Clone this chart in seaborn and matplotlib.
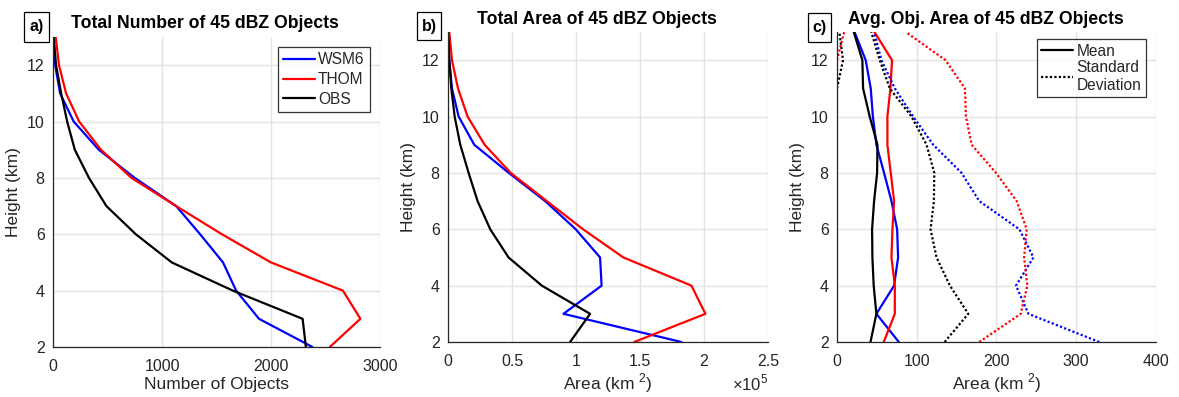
import numpy as np
import pandas as pd
import matplotlib
matplotlib.use("Agg")
import matplotlib.pyplot as plt
from matplotlib.lines import Line2D
from matplotlib.patches import Rectangle
import seaborn as sns

# Heights of the vertical levels (km)
heights = [2, 3, 4, 5, 6, 7, 8, 9, 10, 11, 12, 13]

# a) total number of 45 dBZ objects per level
count_wsm6 = [2380, 1890, 1680, 1560, 1350, 1130, 750, 420, 190, 65, 20, 3]
count_thom = [2540, 2820, 2660, 2000, 1550, 1130, 720, 440, 240, 120, 55, 25]
count_obs = [2320, 2290, 1650, 1090, 760, 490, 330, 200, 130, 75, 28, 6]

# b) total area of 45 dBZ objects (x 1e5 km^2)
area_wsm6 = [1.824, 0.902, 1.20, 1.188, 0.998, 0.759, 0.475, 0.205, 0.083, 0.031, 0.010, 0.0]
area_thom = [1.455, 2.011, 1.902, 1.370, 1.055, 0.772, 0.490, 0.286, 0.153, 0.078, 0.031, 0.010]
area_obs = [0.954, 1.110, 0.733, 0.473, 0.330, 0.231, 0.161, 0.096, 0.052, 0.026, 0.010, 0.0]

# c) average object area: mean and standard deviation (km^2)
mean_wsm6 = [77.5, 49.4, 71.6, 76.6, 75.4, 68.3, 59.0, 49.4, 45.0, 42.3, 36.0, 22.0]
mean_thom = [58.6, 72.5, 72.5, 68.3, 69.5, 71.6, 67.4, 63.2, 63.2, 67.0, 69.0, 47.0]
mean_obs = [42.0, 49.4, 46.0, 44.4, 44.0, 46.5, 50.3, 50.7, 41.0, 32.7, 31.8, 21.0]
std_wsm6 = [328.8, 240.0, 224.5, 246.3, 228.7, 178.4, 156.2, 120.6, 95.5, 72.5, 55.7, 46.5]
std_thom = [178.4, 230.4, 238.7, 234.6, 237.9, 225.3, 199.4, 168.8, 161.7, 160.4, 136.1, 86.3]
std_obs = [135.0, 164.6, 141.6, 124.8, 117.3, 121.5, 122.0, 112.3, 93.4, 66.2, 53.6, 43.0]
std_obs_upper = [np.nan] * 9 + [0.0, 7.5, 3.0]
std_thom_upper = [np.nan] * 10 + [0.0, 9.0]

model_names = ["WSM6", "THOM", "OBS"]
model_colors = {"WSM6": "#0000ff", "THOM": "#ff0000", "OBS": "#000000"}

panel_titles = ["Total Number of 45 dBZ Objects",
                "Total Area of 45 dBZ Objects",
                "Avg. Obj. Area of 45 dBZ Objects"]
panel_tags = ["a)", "b)", "c)"]

sns.set_theme(style="white")
plt.rcParams["font.family"] = ["Liberation Sans", "DejaVu Sans"]
plt.rcParams["mathtext.fontset"] = "custom"
plt.rcParams["mathtext.rm"] = "Liberation Sans"

text_gray = "#262626"
grid_gray = "#e3e3e3"
dot_style = (0, (1, 1))
lw = 1.6

W, H = 1179, 397
fig = plt.figure(figsize=(W / 100, H / 100), dpi=100)


def px_axes(left, top, right, bottom):
    return fig.add_axes([left / W, 1 - bottom / H, (right - left) / W, (bottom - top) / H])


def fig_xy(x, y):
    return x / W, 1 - y / H


ax_a = px_axes(53, 37, 380, 347)
ax_b = px_axes(448, 32, 768, 342)
ax_c = px_axes(837, 32, 1156, 342)


def draw(ax, values, name, style="-", label=None):
    df = pd.DataFrame({"x": values, "height": heights}).dropna()
    sns.lineplot(data=df, x="x", y="height", orient="y", sort=False, estimator=None,
                 color=model_colors[name], lw=lw, linestyle=style, label=label, ax=ax)


# Panel a
for name, vals in zip(model_names, [count_wsm6, count_thom, count_obs]):
    draw(ax_a, vals, name, label=name)
ax_a.set_xlim(0, 3000)
ax_a.set_xticks([0, 1000, 2000, 3000])
ax_a.set_xlabel("Number of Objects")

# Panel b
for name, vals in zip(model_names, [area_wsm6, area_thom, area_obs]):
    draw(ax_b, vals, name)
ax_b.set_xlim(0, 2.5)
ax_b.set_xticks([0, 0.5, 1, 1.5, 2, 2.5])
ax_b.set_xticklabels(["0", "0.5", "1", "1.5", "2", "2.5"])
ax_b.set_xlabel("Area (km $^{2}$)")
ax_b.text(1.0, -0.132, r"$\times$10$^{5}$", transform=ax_b.transAxes, ha="right",
          va="center", fontsize=12, color=text_gray)

# Panel c
for name, vals in zip(model_names, [mean_wsm6, mean_thom, mean_obs]):
    draw(ax_c, vals, name)
for name, vals in zip(model_names, [std_wsm6, std_thom, std_obs]):
    draw(ax_c, vals, name, style=dot_style)
draw(ax_c, std_obs_upper, "OBS", style=dot_style)
draw(ax_c, std_thom_upper, "THOM", style=dot_style)
ax_c.set_xlim(0, 400)
ax_c.set_xticks([0, 100, 200, 300, 400])
ax_c.set_xlabel("Area (km $^{2}$)")

title_centers = [(204.5, 23.5), (596.5, 19.5), (986, 19.5)]
tag_boxes = [(24, 12, 49, 42), (417, 12, 441, 40), (808, 13, 831, 42)]

for ax, title, tag, (tcx, tcy), (bx0, by0, bx1, by1) in zip(
        [ax_a, ax_b, ax_c], panel_titles, panel_tags, title_centers, tag_boxes):
    ax.set_ylim(2, 13)
    ax.set_yticks([2, 4, 6, 8, 10, 12])
    ax.set_ylabel("Height (km)", fontsize=12.5, color=text_gray, labelpad=4)
    ax.set_xlabel(ax.get_xlabel(), fontsize=12.5, color=text_gray, labelpad=2)
    ax.grid(True, color=grid_gray, lw=1.0)
    ax.tick_params(axis="both", direction="in", length=4, width=0.8, labelsize=11.5,
                   colors=text_gray)
    ax.tick_params(axis="x", pad=8.5)
    ax.tick_params(axis="y", pad=6)
    for side in ["top", "right"]:
        ax.spines[side].set_visible(False)
    for side in ["left", "bottom"]:
        ax.spines[side].set_color("#262626")
        ax.spines[side].set_linewidth(0.9)
    ax.set_axisbelow(True)
    fig.text(*fig_xy(tcx, tcy), title, ha="center", va="center",
             fontsize=12.7, fontweight="bold", color="black")
    x0, y0 = fig_xy(bx0, by1)
    fig.patches.append(Rectangle((x0, y0), (bx1 - bx0) / W, (by1 - by0) / H,
                                 transform=fig.transFigure, fill=True, fc="white",
                                 ec="black", lw=0.9, zorder=5))
    fig.text(*fig_xy((bx0 + bx1) / 2, (by0 + by1) / 2), tag, ha="center", va="center",
             fontsize=11.5, fontweight="bold", color="black", zorder=6)

# Legend for the models
leg_a = ax_a.legend(loc="upper right", bbox_to_anchor=fig_xy(370, 47),
                    bbox_transform=fig.transFigure, borderaxespad=0, frameon=True,
                    fancybox=False, edgecolor="black", fontsize=11.2, handlelength=2.05,
                    borderpad=0.35, labelspacing=0.3, handletextpad=0.2)
leg_a.get_frame().set_linewidth(0.9)
for t in leg_a.get_texts():
    t.set_color(text_gray)

# Legend for the line styles
handles = [Line2D([], [], color="black", lw=lw),
           Line2D([], [], color="black", lw=lw, linestyle=dot_style)]
leg_c = ax_c.legend(handles, ["Mean", "Standard\nDeviation"], loc="upper right",
                    bbox_to_anchor=fig_xy(1146, 39), bbox_transform=fig.transFigure,
                    borderaxespad=0, frameon=True, fancybox=False,
                    edgecolor="black", fontsize=11.2, handlelength=2.05, borderpad=0.3,
                    labelspacing=0.1, handletextpad=0.2)
leg_c.get_frame().set_linewidth(0.9)
for t in leg_c.get_texts():
    t.set_color(text_gray)

fig.savefig("out.png", dpi=100)
